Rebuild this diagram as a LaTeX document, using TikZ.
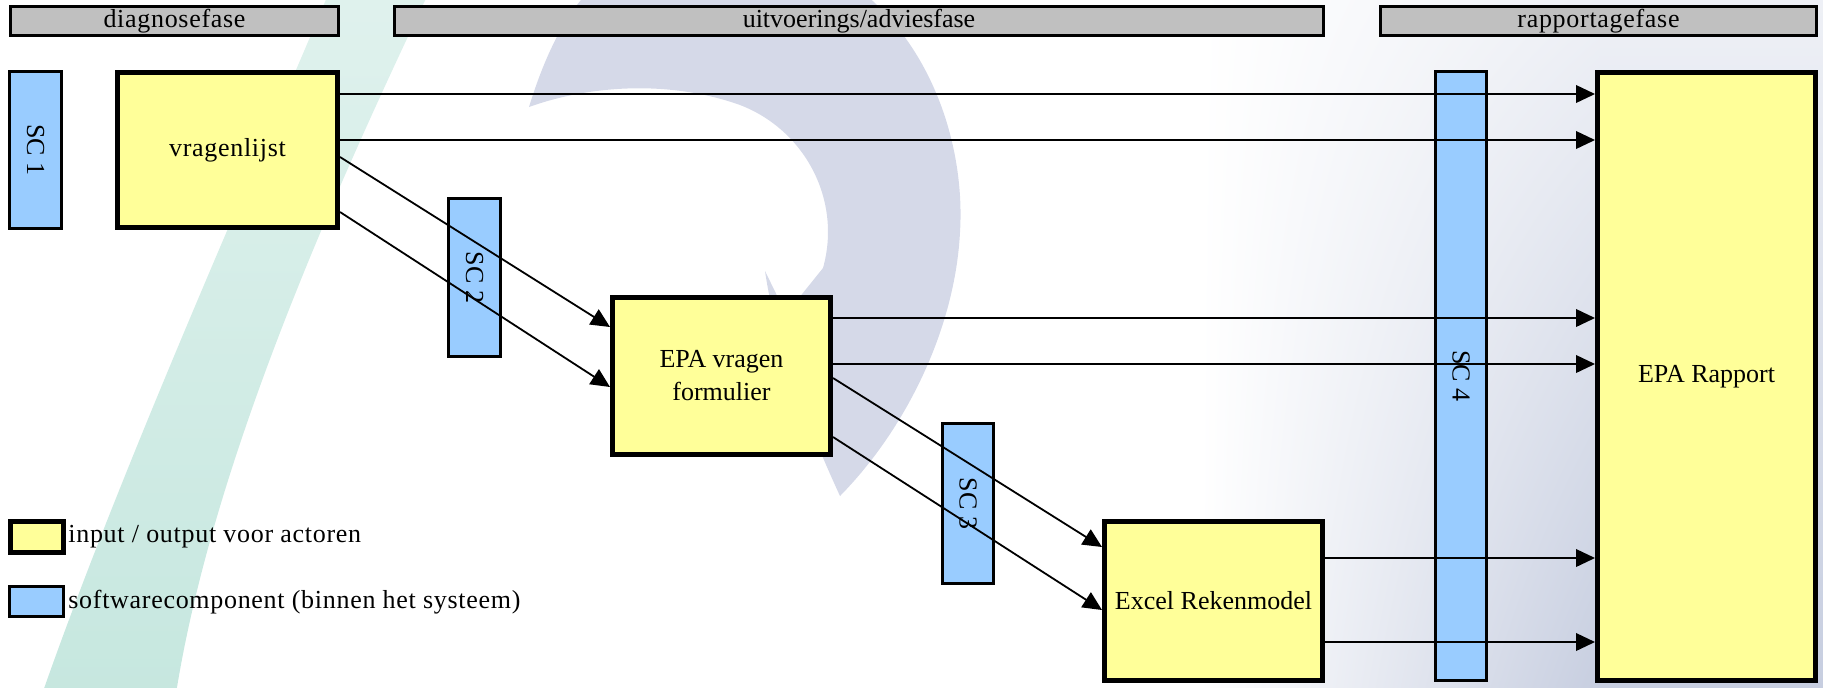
\documentclass[tikz,border=0pt]{standalone}
\usepackage{fontspec}
\setmainfont{Liberation Serif}
\usetikzlibrary{arrows.meta,shadings}
\definecolor{ioyellow}{HTML}{FFFF99}
\definecolor{swblue}{HTML}{99CCFF}
\definecolor{phasegray}{HTML}{C0C0C0}
\definecolor{wmteal}{HTML}{C6E7DF}
\definecolor{wmblue}{HTML}{D5D9E8}
\definecolor{gradblue}{HTML}{C7CEE0}
\begin{document}
\begin{tikzpicture}[x=0.5pt,y=-0.5pt,
  every node/.style={font=\fontsize{13}{16.5}\selectfont, inner sep=0pt},
  spaced/.style={font=\fontsize{13}{16.5}\selectfont\addfontfeatures{LetterSpace=2.7}},
  iobox/.style={draw=black, line width=2.5pt, fill=ioyellow, align=center},
  swbox/.style={draw=black, line width=1.5pt, fill=swblue},
  phasebar/.style={draw=black, line width=1.5pt, fill=phasegray, minimum height=14.5pt},
  flow/.style={line width=0.9pt, -{Triangle[length=9.5pt,width=8.8pt]}},
  legtext/.style={anchor=west, spaced}
]
\useasboundingbox (0,0) rectangle (1823,687);
% background watermark
\begin{scope}
  \clip (0,0) rectangle (1823,687);
  \shade[upper left=white, lower left=white, upper right=gradblue!30, lower right=gradblue] (1200,0) rectangle (1600,687);
  \shade[top color=gradblue!30, bottom color=gradblue] (1599,0) rectangle (1823,687);
  \shade[top color=wmteal!55, bottom color=wmteal] (40,700) .. controls (120,470) and (250,180) .. (330,-10) -- (430,-10) .. controls (330,200) and (210,470) .. (175,700) -- cycle;
  \fill[wmblue] (529,107) .. controls (545,55) and (565,15) .. (590,-10) -- (860,-10) .. controls (935,50) and (965,150) .. (960,232) .. controls (955,330) and (905,430) .. (840,496) .. controls (805,420) and (775,340) .. (765,271) -- (786,314) -- (823,268) .. controls (842,200) and (805,130) .. (740,105) .. controls (670,80) and (590,85) .. (529,107) -- cycle;
\end{scope}
% phase bars
\node[phasebar, spaced, minimum width=164pt] (ph1) at (174.5,21) {diagnosefase};
\node[phasebar, minimum width=464.5pt] (ph2) at (859,21) {uitvoerings/adviesfase};
\node[phasebar, spaced, minimum width=218pt] (ph3) at (1598.5,21) {rapportagefase};
% software components
\node[swbox, minimum width=26pt, minimum height=78.5pt] (sc1) at (35.5,150) {\rotatebox{-90}{SC 1}};
\node[swbox, minimum width=26pt, minimum height=79pt] (sc2) at (474.5,277.5) {\rotatebox{-90}{SC 2}};
\node[swbox, minimum width=25.5pt, minimum height=80pt] (sc3) at (968,503.5) {\rotatebox{-90}{SC 3}};
\node[swbox, minimum width=25.5pt, minimum height=304.5pt] (sc4) at (1461,376) {\rotatebox{-90}{SC 4}};
% input / output boxes
\node[iobox, spaced, minimum width=110pt, minimum height=77.5pt] (vrag) at (227.5,150) {vragenlijst};
\node[iobox, minimum width=109pt, minimum height=78.5pt] (epa) at (721.5,376) {EPA vragen\\formulier};
\node[iobox, minimum width=109pt, minimum height=79.5pt] (excel) at (1213.5,601) {Excel Rekenmodel};
\node[iobox, minimum width=109pt, minimum height=304pt] (rap) at (1706.5,376.5) {EPA Rapport};
% legend
\node[iobox, minimum width=26.5pt, minimum height=15.5pt] (legio) at (37,537) {};
\node[swbox, minimum width=27pt, minimum height=15pt] (legsw) at (36,601.5) {};
\node[legtext] (legiot) at (68,537) {input / output voor actoren};
\node[legtext] (legswt) at (68,602) {softwarecomponent (binnen het systeem)};
% flows
\draw[flow] (vrag.east |- 0,94) -- (rap.west |- 0,94);
\draw[flow] (vrag.east |- 0,140) -- (rap.west |- 0,140);
\draw[flow] (vrag.east |- 0,157) -- (epa.west |- 0,327);
\draw[flow] (vrag.east |- 0,212) -- (epa.west |- 0,387);
\draw[flow] (epa.east |- 0,318) -- (rap.west |- 0,318);
\draw[flow] (epa.east |- 0,364) -- (rap.west |- 0,364);
\draw[flow] (epa.east |- 0,378) -- (excel.west |- 0,547);
\draw[flow] (epa.east |- 0,437) -- (excel.west |- 0,610);
\draw[flow] (excel.east |- 0,558) -- (rap.west |- 0,558);
\draw[flow] (excel.east |- 0,642) -- (rap.west |- 0,642);
\end{tikzpicture}
\end{document}
